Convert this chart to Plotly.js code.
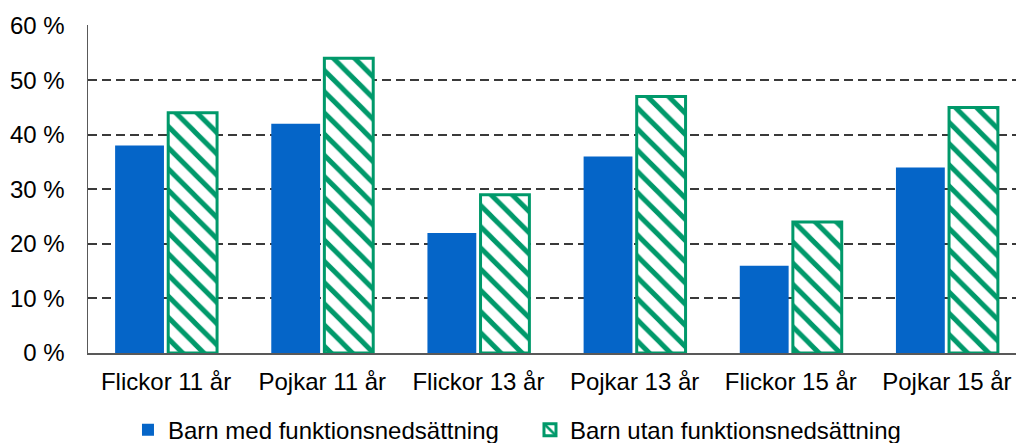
<!DOCTYPE html>
<html>
<head>
<meta charset="utf-8">
<script src="https://cdn.plot.ly/plotly-3.0.1.min.js"></script>
<style>
html,body{margin:0;padding:0;overflow:hidden;background:#fff;}
#chart{width:1026px;height:443px;}
</style>
</head>
<body>
<div id="chart"></div>
<script>
const categories = ["Flickor 11 år","Pojkar 11 år","Flickor 13 år","Pojkar 13 år","Flickor 15 år","Pojkar 15 år"];
const seriesNames = ["Barn med funktionsnedsättning","Barn utan funktionsnedsättning"];
const medValues = [38, 42, 22, 36, 16, 34];
const utanValues = [44, 54, 29, 47, 24, 45];
const yTicks = [0, 10, 20, 30, 40, 50, 60];

const FONT = "Liberation Sans, Arial, sans-serif";
const FS = 24;
const BLUE = "#0565C8";
const GREEN = "#00996A";

const traces = [
  {
    type: "bar", name: seriesNames[0], x: categories, y: medValues,
    marker: {color: BLUE, line: {width: 0}},
    hoverinfo: "skip"
  },
  {
    type: "bar", name: seriesNames[1], x: categories, y: utanValues,
    marker: {
      color: "#ffffff",
      line: {color: GREEN, width: 3},
      pattern: {shape: "\\", fgcolor: GREEN, bgcolor: "#ffffff", size: 15, solidity: 0.33, fillmode: "replace"}
    },
    hoverinfo: "skip"
  }
];

const layout = {
  width: 1026, height: 443,
  margin: {l: 88, r: 1, t: 25, b: 90, autoexpand: false},
  paper_bgcolor: "#ffffff", plot_bgcolor: "#ffffff",
  font: {family: FONT, size: FS, color: "#000000"},
  barmode: "group", bargap: 0.32, bargroupgap: 0.08,
  showlegend: true,
  legend: {
    orientation: "h", x: 0.4717, xanchor: "center", y: -0.235, yanchor: "middle",
    font: {family: FONT, size: FS, color: "#000000"},
    traceorder: "normal", entrywidth: 357, entrywidthmode: "pixels",
    bgcolor: "rgba(0,0,0,0)"
  },
  xaxis: {
    type: "category", showgrid: false, zeroline: false,
    showline: true, linecolor: "#595959", linewidth: 1.5,
    ticks: "", ticklabelstandoff: 7,
    tickfont: {family: FONT, size: FS, color: "#000000"},
    fixedrange: true
  },
  yaxis: {
    range: [0, 60.1], tickvals: yTicks, ticktext: yTicks.map(v => v + " %"),
    showgrid: true, gridcolor: "#3a3a3a", gridwidth: 2, griddash: "9px,5px",
    zeroline: false, showline: true, linecolor: "#595959", linewidth: 1.5,
    ticks: "", ticklabelstandoff: 17,
    tickfont: {family: FONT, size: FS, color: "#000000"},
    fixedrange: true
  }
};

Plotly.newPlot("chart", traces, layout, {displayModeBar: false, staticPlot: true});
</script>
</body>
</html>
